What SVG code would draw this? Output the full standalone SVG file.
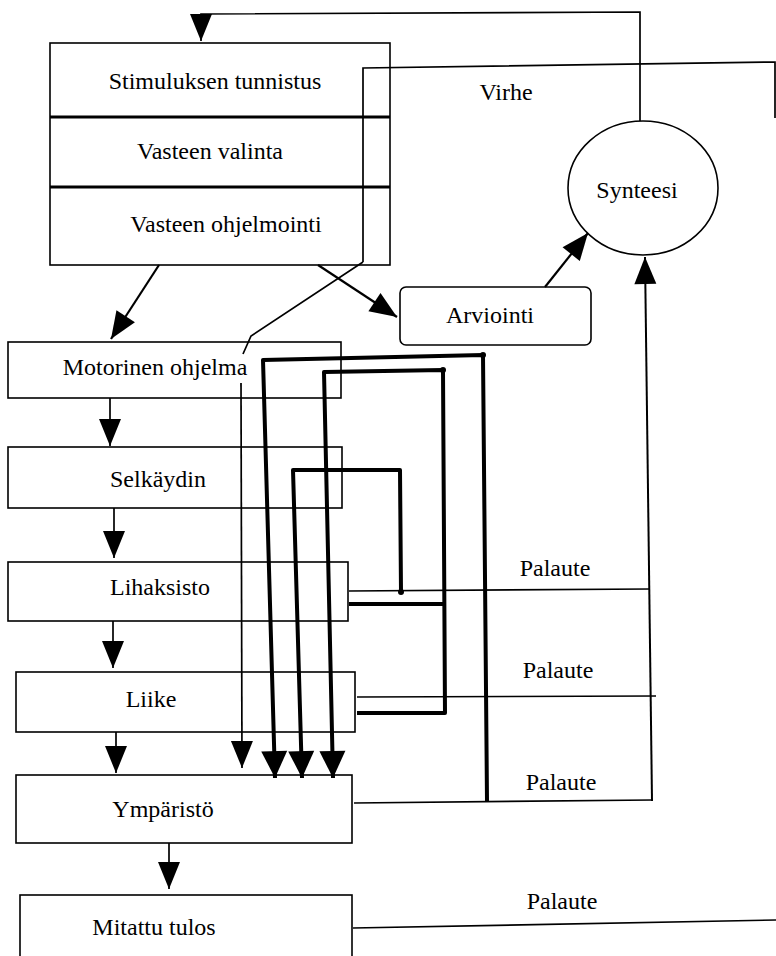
<svg xmlns="http://www.w3.org/2000/svg" width="776" height="956" viewBox="0 0 776 956" font-family="'Liberation Serif', 'Times New Roman', serif">
<style>
.box{fill:none;stroke:#000;stroke-width:1.6}
.lbl{font-size:24px;fill:#000;text-anchor:middle}
.ln{fill:none;stroke:#000;stroke-width:1.7}
.thk{fill:none;stroke:#000;stroke-width:4;stroke-linejoin:round}
.dot{fill:#000}
</style>
<defs>
<marker id="ah" markerUnits="userSpaceOnUse" markerWidth="28" markerHeight="24" refX="27" refY="11" orient="auto" overflow="visible">
<path d="M0,0 L27,11 L0,22 Z" fill="#000"/>
</marker>
<marker id="ahb" markerUnits="userSpaceOnUse" markerWidth="28" markerHeight="28" refX="27" refY="13" orient="auto" overflow="visible">
<path d="M0,0 L27,13 L0,26 Z" fill="#000"/>
</marker>
</defs>
<rect width="776" height="956" fill="#fff"/>

<g id="connectors">
<path class="ln" d="M640,121 L640,12 L201,14 L201,41" marker-end="url(#ah)"/>
<path class="ln" d="M363,262 L363,68 L775,62 L775,118"/>
<path class="ln" d="M363,262 L251,336 L243,354"/>
<path class="ln" d="M241,383 L242,768" marker-end="url(#ah)"/>
<path class="ln" style="stroke-width:2.2" d="M159,265 L111,339" marker-end="url(#ah)"/>
<path class="ln" style="stroke-width:2.2" d="M318,265 L397,317" marker-end="url(#ah)"/>
<path class="ln" style="stroke-width:2.2" d="M545,287 L588,233" marker-end="url(#ah)"/>
<path class="ln" style="stroke-width:2" d="M652,801 L645,257" marker-end="url(#ah)"/>
<path class="ln" d="M110,398 L110,446" marker-end="url(#ah)"/>
<path class="ln" d="M114,508 L114,558" marker-end="url(#ah)"/>
<path class="ln" d="M113,621 L113,668" marker-end="url(#ah)"/>
<path class="ln" d="M116,732 L116,773" marker-end="url(#ah)"/>
<path class="ln" d="M169,843 L169,889" marker-end="url(#ah)"/>
<path class="ln" d="M349,591 L650,589"/>
<path class="ln" d="M357,697 L656,696"/>
<path class="ln" d="M354,803 L652,800"/>
<path class="ln" d="M353,928 L776,920"/>
<path class="thk" d="M487,801 L483,355 L263,360 L275,778" marker-end="url(#ahb)"/>
<path class="thk" d="M357,713 L445,713 L443,370 L324,372 L333,778" marker-end="url(#ahb)"/>
<path class="thk" d="M349,604 L444,604"/>
<path class="thk" d="M401,592 L400,470 L293,470 L302,778" marker-end="url(#ahb)"/>
<circle class="dot" cx="483" cy="355" r="3"/>
<circle class="dot" cx="443" cy="370" r="3"/>
<circle class="dot" cx="401" cy="592" r="3"/>
</g>

<g id="stimulus">
<rect class="box" x="50" y="43" width="340" height="222"/>
<line x1="50" y1="117" x2="390" y2="117" stroke="#000" stroke-width="2.8"/>
<line x1="50" y1="187" x2="390" y2="187" stroke="#000" stroke-width="2.8"/>
<text class="lbl" x="215" y="89">Stimuluksen tunnistus</text>
<text class="lbl" x="210" y="159">Vasteen valinta</text>
<text class="lbl" x="226" y="232">Vasteen ohjelmointi</text>
</g>

<g id="virhe"><text class="lbl" x="506" y="100">Virhe</text></g>

<g id="synteesi">
<ellipse class="box" cx="643" cy="188" rx="75" ry="67"/>
<text class="lbl" x="637" y="198">Synteesi</text>
</g>

<g id="arviointi">
<rect class="box" x="400" y="287" width="191" height="58" rx="6"/>
<text class="lbl" x="490" y="323">Arviointi</text>
</g>

<g id="motorinen">
<rect class="box" x="8" y="342" width="333" height="56"/>
<text class="lbl" x="155" y="375">Motorinen ohjelma</text>
</g>

<g id="selkaydin">
<rect class="box" x="8" y="447" width="334" height="61"/>
<text class="lbl" x="158" y="487">Selkäydin</text>
</g>

<g id="lihaksisto">
<rect class="box" x="8" y="562" width="340" height="59"/>
<text class="lbl" x="160" y="595">Lihaksisto</text>
</g>

<g id="liike">
<rect class="box" x="16" y="672" width="339" height="60"/>
<text class="lbl" x="151" y="707">Liike</text>
</g>

<g id="ymparisto">
<rect class="box" x="16" y="775" width="336" height="68"/>
<text class="lbl" x="163" y="817">Ympäristö</text>
</g>

<g id="mitattu">
<rect class="box" x="20" y="895" width="332" height="80"/>
<text class="lbl" x="154" y="935">Mitattu tulos</text>
</g>

<g id="palaute-labels">
<text class="lbl" x="555" y="576">Palaute</text>
<text class="lbl" x="558" y="678">Palaute</text>
<text class="lbl" x="561" y="790">Palaute</text>
<text class="lbl" x="562" y="909">Palaute</text>
</g>
</svg>
